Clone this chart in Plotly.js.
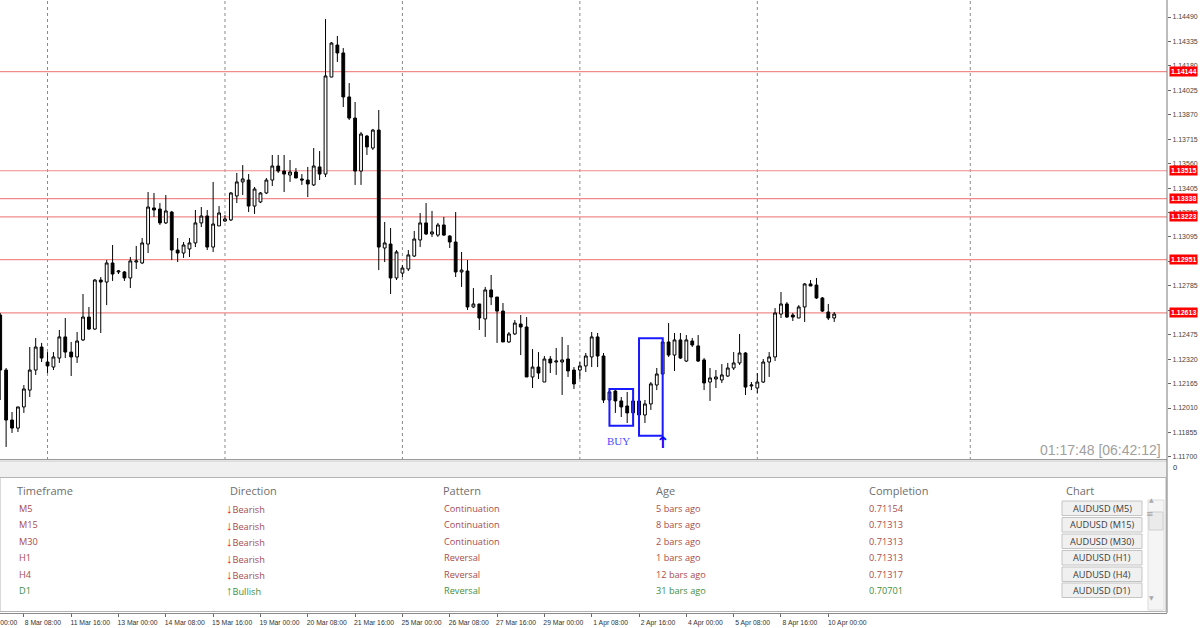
<!DOCTYPE html>
<html><head><meta charset="utf-8">
<script src="https://cdn.plot.ly/plotly-3.0.1.min.js"></script>
<style>html,body{margin:0;padding:0;background:#fff;overflow:hidden}#chart{width:1200px;height:628px}</style>
</head><body><div id="chart"></div>
<script>
// ---- OHLC data (AUDUSD H4) ----
const opens = [1.12600,1.12251,1.11934,1.11883,1.12017,1.12124,1.12251,1.12397,1.12302,1.12270,
1.12327,1.12461,1.12365,1.12334,1.12442,1.12587,1.12511,1.12822,1.12809,1.12930,
1.12873,1.12873,1.12835,1.12936,1.12930,1.13050,1.13279,1.13272,1.13184,1.13253,
1.13012,1.12993,1.13019,1.13057,1.13184,1.13228,1.13031,1.13165,1.13196,1.13203,
1.13355,1.13444,1.13456,1.13291,1.13317,1.13374,1.13456,1.13545,1.13513,1.13488,
1.13507,1.13463,1.13456,1.13425,1.13539,1.13494,1.14109,1.14312,1.14262,1.13983,
1.13849,1.13513,1.13735,1.13659,1.13773,1.13025,1.13050,1.12835,1.12866,1.12892,
1.12974,1.13076,1.13184,1.13114,1.13107,1.13171,1.13101,1.13063,1.12873,1.12879,
1.12651,1.12670,1.12575,1.12759,1.12714,1.12625,1.12429,1.12480,1.12543,1.12524,
1.12207,1.12270,1.12175,1.12321,1.12302,1.12302,1.12321,1.12251,1.12251,1.12277,
1.12334,1.12461,1.12340,1.12061,1.12118,1.12055,1.12023,1.11979,1.12055,1.11966,
1.12036,1.12156,1.12226,1.12429,1.12346,1.12442,1.12308,1.12435,1.12404,1.12315,
1.12175,1.12194,1.12188,1.12213,1.12264,1.12296,1.12359,1.12150,1.12137,1.12175,
1.12302,1.12334,1.12606,1.12670,1.12600,1.12581,1.12651,1.12797,1.12790,1.12708,
1.12619,1.12581];
const highs = [1.12613,1.12264,1.11985,1.12017,1.12156,1.12397,1.12454,1.12423,1.12365,1.12365,
1.12505,1.12581,1.12429,1.12492,1.12733,1.12651,1.12828,1.12841,1.12949,1.13044,
1.12885,1.12879,1.12968,1.13038,1.13088,1.13380,1.13374,1.13310,1.13361,1.13260,
1.13088,1.13063,1.13088,1.13266,1.13285,1.13266,1.13444,1.13291,1.13234,1.13380,
1.13501,1.13551,1.13494,1.13412,1.13380,1.13469,1.13615,1.13615,1.13615,1.13583,
1.13532,1.13494,1.13539,1.13659,1.13640,1.14477,1.14331,1.14370,1.14293,1.14071,
1.13951,1.13761,1.13742,1.13780,1.13900,1.13190,1.13152,1.13012,1.12917,1.13012,
1.13133,1.13247,1.13310,1.13260,1.13184,1.13222,1.13107,1.13253,1.13000,1.12949,
1.12771,1.12670,1.12778,1.12854,1.12714,1.12676,1.12492,1.12568,1.12600,1.12587,
1.12384,1.12365,1.12340,1.12340,1.12391,1.12461,1.12410,1.12270,1.12302,1.12359,
1.12492,1.12486,1.12359,1.12124,1.12124,1.12080,1.12112,1.12074,1.12061,1.12061,
1.12175,1.12264,1.12454,1.12549,1.12486,1.12486,1.12473,1.12454,1.12473,1.12327,
1.12264,1.12251,1.12289,1.12296,1.12365,1.12480,1.12365,1.12175,1.12232,1.12321,
1.12365,1.12644,1.12746,1.12682,1.12613,1.12663,1.12803,1.12822,1.12835,1.12714,
1.12670,1.12619];
const lows = [1.12061,1.11763,1.11852,1.11858,1.11979,1.12080,1.12220,1.12302,1.12232,1.12251,
1.12296,1.12327,1.12213,1.12296,1.12435,1.12505,1.12505,1.12486,1.12663,1.12816,
1.12860,1.12816,1.12771,1.12892,1.12924,1.12993,1.13222,1.13171,1.13177,1.12949,
1.12936,1.12962,1.12968,1.13031,1.13158,1.13012,1.13000,1.13165,1.13190,1.13196,
1.13310,1.13361,1.13253,1.13241,1.13310,1.13367,1.13418,1.13501,1.13380,1.13444,
1.13469,1.13425,1.13348,1.13418,1.13456,1.13475,1.14109,1.14205,1.13919,1.13837,
1.13425,1.13425,1.13615,1.13647,1.12885,1.12936,1.12733,1.12822,1.12841,1.12879,
1.12968,1.13031,1.13107,1.13095,1.13095,1.13101,1.13025,1.12841,1.12778,1.12632,
1.12644,1.12505,1.12461,1.12663,1.12423,1.12429,1.12423,1.12473,1.12346,1.12207,
1.12137,1.12194,1.12175,1.12232,1.12220,1.12093,1.12207,1.12131,1.12194,1.12239,
1.12270,1.12270,1.12042,1.12042,1.11979,1.11953,1.11915,1.11979,1.11953,1.11915,
1.11998,1.12124,1.12220,1.12334,1.12245,1.12321,1.12302,1.12397,1.12302,1.12124,
1.12055,1.12137,1.12169,1.12207,1.12251,1.12283,1.12093,1.12124,1.12105,1.12169,
1.12207,1.12308,1.12581,1.12581,1.12562,1.12581,1.12556,1.12784,1.12702,1.12619,
1.12568,1.12556];
const closes = [1.12251,1.11934,1.11883,1.12017,1.12131,1.12251,1.12397,1.12327,1.12277,1.12334,
1.12461,1.12365,1.12334,1.12435,1.12587,1.12511,1.12822,1.12809,1.12930,1.12860,
1.12879,1.12835,1.12943,1.12943,1.13057,1.13285,1.13266,1.13184,1.13260,1.13012,
1.12993,1.13044,1.13057,1.13184,1.13228,1.13031,1.13177,1.13247,1.13209,1.13374,
1.13444,1.13463,1.13291,1.13399,1.13374,1.13456,1.13545,1.13513,1.13494,1.13507,
1.13469,1.13456,1.13431,1.13545,1.13494,1.14116,1.14325,1.14262,1.13983,1.13849,
1.13513,1.13748,1.13666,1.13773,1.13031,1.13057,1.12835,1.13000,1.12898,1.12981,
1.13082,1.13184,1.13114,1.13127,1.13171,1.13107,1.13063,1.12873,1.12885,1.12651,
1.12670,1.12581,1.12759,1.12714,1.12625,1.12429,1.12480,1.12549,1.12524,1.12207,
1.12270,1.12232,1.12321,1.12296,1.12308,1.12315,1.12245,1.12163,1.12277,1.12340,
1.12461,1.12340,1.12061,1.12112,1.12055,1.12017,1.11979,1.12055,1.11966,1.12036,
1.12163,1.12226,1.12429,1.12346,1.12442,1.12327,1.12442,1.12410,1.12308,1.12169,
1.12201,1.12207,1.12220,1.12264,1.12296,1.12359,1.12143,1.12156,1.12175,1.12302,
1.12334,1.12613,1.12670,1.12587,1.12587,1.12651,1.12797,1.12784,1.12708,1.12625,
1.12581,1.12606];

// ---- levels, ticks, labels ----
const levels = [1.14144, 1.13515, 1.13338, 1.13223, 1.12951, 1.12613];
const levelLabels = ['1.14144','1.13515','1.13338','1.13223','1.12951','1.12613'];
const priceTicks = [1.11700,1.11855,1.12010,1.12165,1.12320,1.12475,1.12630,1.12785,1.12940,1.13095,
  1.13250,1.13405,1.13560,1.13715,1.13870,1.14025,1.14180,1.14335,1.14490];
const timeTickBars = [4,12,20,28,36,44,52,60,68,76,84,92,100,108,116,124,132,140];
const timeTickLabels = ['8 Mar 08:00','11 Mar 16:00','13 Mar 00:00','14 Mar 08:00','15 Mar 16:00',
  '19 Mar 00:00','20 Mar 08:00','21 Mar 16:00','25 Mar 00:00','26 Mar 08:00','27 Mar 16:00',
  '29 Mar 00:00','1 Apr 08:00','2 Apr 16:00','4 Apr 00:00','5 Apr 08:00','8 Apr 16:00','10 Apr 00:00'];
const separators = [8, 38, 68, 98, 128, 164];
const patternBoxes = [[103, 107, 1.11898, 1.12131], [108, 112, 1.11835, 1.12452]];
const clockText = '01:17:48 [06:42:12]';

// ---- table ----
const headers = ['Timeframe','Direction','Pattern','Age','Completion','Chart'];
const timeframes = ['M5','M15','M30','H1','H4','D1'];
const directions = ['Bearish','Bearish','Bearish','Bearish','Bearish','Bullish'];
const patterns = ['Continuation','Continuation','Continuation','Reversal','Reversal','Reversal'];
const ages = ['5 bars ago','8 bars ago','2 bars ago','1 bars ago','12 bars ago','31 bars ago'];
const completions = ['0.71154','0.71313','0.71313','0.71313','0.71317','0.70701'];
const chartButtons = ['AUDUSD (M5)','AUDUSD (M15)','AUDUSD (M30)','AUDUSD (H1)','AUDUSD (H4)','AUDUSD (D1)'];

// ---- geometry ----
const W = 1200, H = 628, MR = 33, MB = 15;
const PW = W - MR, PH = H - MB;
const px = x => x / PW;
const py = y => 1 - y / PH;
const mainBottom = 460;
const bars = opens.map((_, i) => i);

const shapes = [];
const annotations = [];

// separators
separators.forEach(k => shapes.push({type:'line', xref:'x', yref:'y domain', x0:k, x1:k, y0:0, y1:1,
  line:{color:'#8a8a8a', width:1, dash:'dot'}, layer:'below'}));
// levels
levels.forEach((v, i) => {
  shapes.push({type:'line', xref:'x domain', yref:'y', x0:0, x1:1, y0:v, y1:v,
    line:{color:'#f28a8a', width:1.2}, layer:'below'});
});
// pattern boxes
patternBoxes.forEach(b => shapes.push({type:'rect', xref:'x', yref:'y', x0:b[0], x1:b[1], y0:b[2], y1:b[3],
  line:{color:'#1a1aff', width:2}, fillcolor:'rgba(0,0,0,0)'}));

// main-window bottom border + panel
shapes.push({type:'line', xref:'paper', yref:'paper', x0:0, x1:px(1167), y0:py(459.5), y1:py(459.5), line:{color:'#9a9a9a', width:1}});
shapes.push({type:'rect', xref:'paper', yref:'paper', x0:0, x1:px(1167), y0:py(477), y1:py(461), line:{width:0}, fillcolor:'#f0f0f0'});
shapes.push({type:'line', xref:'paper', yref:'paper', x0:0, x1:px(1167), y0:py(461), y1:py(461), line:{color:'#c8c8c8', width:1}});
shapes.push({type:'rect', xref:'paper', yref:'paper', x0:0, x1:px(1166), y0:py(611.5), y1:py(477.5), line:{color:'#b4b4b4', width:1}, fillcolor:'#ffffff'});
// right axis line (full height)
shapes.push({type:'line', xref:'paper', yref:'paper', x0:1, x1:1, y0:0, y1:1, line:{color:'#7a7a7a', width:1}});
// scrollbar
shapes.push({type:'rect', xref:'paper', yref:'paper', x0:px(1148), x1:px(1164), y0:py(610), y1:py(500), line:{color:'#dcdcdc', width:1}, fillcolor:'#f5f5f5'});
shapes.push({type:'rect', xref:'paper', yref:'paper', x0:px(1149), x1:px(1163), y0:py(530), y1:py(512), line:{color:'#cfcfcf', width:1}, fillcolor:'#ebebeb'});
annotations.push({xref:'paper', yref:'paper', x:px(1156), y:py(505), text:'▲', showarrow:false, font:{size:6, color:'#a8a8a8', family:'DejaVu Sans'}});
annotations.push({xref:'paper', yref:'paper', x:px(1156), y:py(521), text:'≡', showarrow:false, font:{size:9, color:'#a8a8a8', family:'DejaVu Sans'}});
annotations.push({xref:'paper', yref:'paper', x:px(1156), y:py(603), text:'▼', showarrow:false, font:{size:6, color:'#a8a8a8', family:'DejaVu Sans'}});

// price labels for levels
levels.forEach((v, i) => annotations.push({xref:'paper', yref:'y', x:px(1169), y:v, xanchor:'left', yanchor:'middle',
  text:'<b>' + levelLabels[i] + '</b>', showarrow:false, bgcolor:'#ff0000', borderpad:1,
  font:{family:'Liberation Sans', size:7, color:'#ffffff'}}));

// subwindow zero label
annotations.push({xref:'paper', yref:'paper', x:px(1171), y:py(468), xanchor:'left', yanchor:'middle', text:'0', showarrow:false,
  font:{family:'Liberation Sans', size:7.5, color:'#333'}});
// cut-off first time label (partly outside the left edge, as in the original)
annotations.push({xref:'paper', yref:'paper', x:px(0.2 + 5.915 * -4 + 2), y:py(622), xanchor:'left', yanchor:'middle', text:'7 Mar 00:00', showarrow:false,
  font:{family:'Liberation Sans', size:6.8, color:'#333'}});
// clock
annotations.push({xref:'paper', yref:'paper', x:px(1163), y:py(450), xanchor:'right', yanchor:'middle', text:clockText, showarrow:false,
  font:{family:'Liberation Sans', size:14, color:'#a0a0a0'}});
// BUY + arrow
annotations.push({xref:'x', yref:'y', x:104.6, y:1.11801, text:'BUY', showarrow:false, xanchor:'center', yanchor:'middle',
  font:{family:'Liberation Serif', size:11, color:'#4a4aff'}});
annotations.push({xref:'x', yref:'y', x:112, y:1.11790, text:'<b>↑</b>', showarrow:false, xanchor:'center', yanchor:'middle',
  font:{family:'DejaVu Sans', size:16, color:'#0000ff'}});

// table
const colX = [15, 228, 441, 654, 867, 1064];
headers.forEach((h, i) => annotations.push({xref:'paper', yref:'paper', x:px(colX[i]), y:py(490), xanchor:'left', yanchor:'middle',
  text:h, showarrow:false, font:{family:'Open Sans', size:11, color:'#6e6e6e'}}));
const rowY = [508, 524.5, 541, 557.5, 574, 590];
const bear = '#a84c4c', bull = '#3f8f3f';
timeframes.forEach((tf, r) => {
  const isBull = directions[r] === 'Bullish';
  const col = isBull ? bull : bear;
  const f = {family:'Open Sans', size:9.2, color:col};
  const y = py(rowY[r]);
  annotations.push({xref:'paper', yref:'paper', x:px(17), y, xanchor:'left', yanchor:'middle', text:tf, showarrow:false, font:f});
  const arrow = isBull ? '<span style="color:#108a10;font-size:13px"><b>↑</b></span>' : '<span style="color:#ff0000;font-size:13px"><b>↓</b></span>';
  annotations.push({xref:'paper', yref:'paper', x:px(224), y, xanchor:'left', yanchor:'middle', text:arrow + directions[r], showarrow:false, font:f});
  annotations.push({xref:'paper', yref:'paper', x:px(442), y, xanchor:'left', yanchor:'middle', text:patterns[r], showarrow:false, font:f});
  annotations.push({xref:'paper', yref:'paper', x:px(654), y, xanchor:'left', yanchor:'middle', text:ages[r], showarrow:false, font:f});
  annotations.push({xref:'paper', yref:'paper', x:px(867), y, xanchor:'left', yanchor:'middle', text:completions[r], showarrow:false, font:f});
  shapes.push({type:'rect', xref:'paper', yref:'paper', x0:px(1062), x1:px(1142), y0:py(rowY[r] + 7.5), y1:py(rowY[r] - 7),
    line:{color:'#c4c4c4', width:1}, fillcolor:'#f0f0f0'});
  annotations.push({xref:'paper', yref:'paper', x:px(1102), y, xanchor:'center', yanchor:'middle', text:chartButtons[r], showarrow:false,
    font:{family:'Open Sans', size:9.2, color:'#3c3c3c'}});
});

const trace = {
  type:'candlestick', x:bars, open:opens, high:highs, low:lows, close:closes,
  increasing:{line:{color:'#000000', width:1}, fillcolor:'#ffffff'},
  decreasing:{line:{color:'#000000', width:1}, fillcolor:'#000000'},
  whiskerwidth:0, hoverinfo:'skip', showlegend:false
};

const layout = {
  width:W, height:H,
  margin:{l:0, r:MR, t:0, b:MB, pad:0},
  paper_bgcolor:'#ffffff', plot_bgcolor:'#ffffff',
  showlegend:false, hovermode:false, dragmode:false, boxgap:0.32,
  xaxis:{range:[-0.034, 197.26], anchor:'free', position:0, showgrid:false, zeroline:false,
    showline:true, linecolor:'#8a8a8a', linewidth:1,
    tickmode:'array', tickvals:timeTickBars, ticktext:timeTickLabels,
    ticks:'outside', ticklen:3, tickcolor:'#666', ticklabelshift:19,
    tickfont:{family:'Liberation Sans', size:6.8, color:'#333'},
    rangeslider:{visible:false}, fixedrange:true},
  yaxis:{domain:[1 - mainBottom / PH, 1], range:[1.116805, 1.145978], side:'right', showgrid:false, zeroline:false,
    showline:false, tickmode:'array', tickvals:priceTicks, ticktext:priceTicks.map(v => v.toFixed(5)),
    ticks:'outside', ticklen:3, tickcolor:'#666',
    tickfont:{family:'Liberation Sans', size:7, color:'#444'}, fixedrange:true},
  shapes, annotations
};

Plotly.newPlot('chart', [trace], layout, {displayModeBar:false, staticPlot:true});
</script></body></html>
